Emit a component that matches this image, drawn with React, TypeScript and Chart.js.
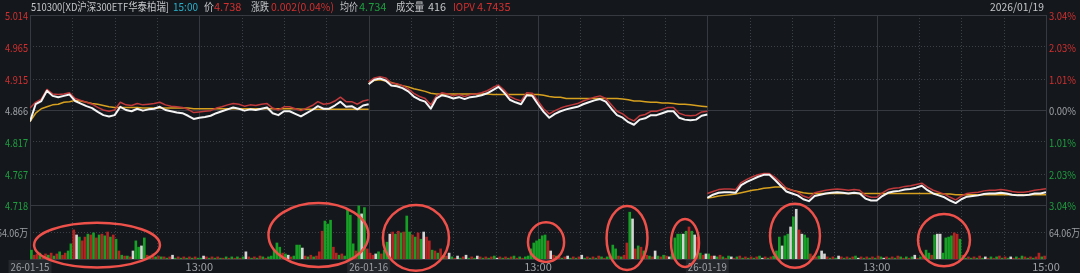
import React, { useEffect, useRef } from "react";
import { Chart, registerables } from "chart.js";

Chart.register(...registerables);

// ---------------- data ----------------
const xTickMinutes = [0, 120, 240, 360, 480, 600, 720];
const xTickLabels = ["26-01-15", "13:00", "26-01-16", "13:00", "26-01-19", "13:00", "15:00"];
const xTickBoxed = [true, false, true, false, true, false, false];
const prevClose = 4.866;
const priceTicks = [5.014, 4.965, 4.915, 4.866, 4.817, 4.767, 4.718];
const pctTickLabels = ["3.04%", "2.03%", "1.01%", "0.00%", "1.01%", "2.03%", "3.04%"];
const volTick = 64.06;
const volTickLabel = "64.06万";
const volPanelMax = 128.12;

const headerTexts = ["510300[XD沪深300ETF华泰柏瑞]", "15:00", "价", "4.738", "涨跌", "0.002(0.04%)", "均价", "4.734", "成交量", "416", "IOPV", "4.7435"];
const headerDate = "2026/01/19";

// price every 4 minutes, 61 samples per day
const d1Price = [4.848,4.875,4.880,4.896,4.888,4.886,4.888,4.890,4.880,4.876,
  4.872,4.869,4.863,4.858,4.856,4.858,4.871,4.866,4.864,4.868,
  4.865,4.867,4.868,4.871,4.866,4.864,4.862,4.861,4.857,4.852,
  4.854,4.855,4.857,4.861,4.864,4.867,4.870,4.868,4.865,4.867,
  4.866,4.868,4.870,4.861,4.858,4.864,4.864,4.860,4.856,4.861,
  4.866,4.872,4.868,4.868,4.873,4.879,4.871,4.872,4.867,4.873,
  4.875];
const d2Price = [4.906,4.913,4.915,4.912,4.904,4.903,4.900,4.895,4.887,4.882,
  4.879,4.868,4.884,4.889,4.887,4.884,4.886,4.883,4.886,4.887,
  4.889,4.892,4.897,4.902,4.893,4.882,4.878,4.875,4.889,4.888,
  4.875,4.863,4.854,4.860,4.864,4.867,4.869,4.871,4.875,4.878,
  4.881,4.883,4.879,4.868,4.858,4.854,4.847,4.843,4.851,4.853,
  4.858,4.858,4.861,4.864,4.864,4.854,4.851,4.850,4.851,4.857,
  4.859];
const d3Price = [4.729,4.734,4.737,4.738,4.738,4.737,4.749,4.754,4.758,4.762,
  4.765,4.765,4.757,4.748,4.739,4.736,4.733,4.727,4.724,4.732,
  4.734,4.736,4.737,4.738,4.737,4.736,4.737,4.736,4.728,4.725,
  4.725,4.732,4.737,4.739,4.740,4.742,4.743,4.745,4.748,4.741,
  4.736,4.733,4.730,4.725,4.721,4.727,4.731,4.732,4.733,4.735,
  4.736,4.736,4.737,4.736,4.734,4.733,4.733,4.734,4.736,4.736,
  4.738];

const d1Iopv = [4.869,4.878,4.883,4.898,4.891,4.890,4.891,4.893,4.884,4.881,
  4.878,4.875,4.870,4.866,4.864,4.866,4.878,4.874,4.873,4.876,
  4.874,4.875,4.876,4.878,4.874,4.872,4.871,4.870,4.867,4.862,
  4.863,4.864,4.865,4.869,4.871,4.874,4.876,4.875,4.872,4.874,
  4.873,4.875,4.876,4.869,4.866,4.871,4.871,4.868,4.865,4.869,
  4.873,4.879,4.875,4.876,4.880,4.886,4.879,4.879,4.875,4.880,
  4.882];
const d2Iopv = [4.910,4.916,4.918,4.916,4.908,4.907,4.904,4.899,4.892,4.887,
  4.884,4.874,4.888,4.893,4.891,4.888,4.890,4.887,4.890,4.891,
  4.893,4.896,4.901,4.905,4.897,4.887,4.883,4.880,4.893,4.892,
  4.880,4.868,4.860,4.865,4.869,4.872,4.874,4.876,4.880,4.883,
  4.886,4.888,4.884,4.874,4.864,4.860,4.853,4.849,4.857,4.859,
  4.864,4.864,4.867,4.870,4.870,4.861,4.858,4.857,4.858,4.863,
  4.864];
const d3Iopv = [4.736,4.739,4.742,4.743,4.743,4.742,4.753,4.758,4.762,4.765,
  4.767,4.767,4.761,4.753,4.744,4.741,4.738,4.732,4.729,4.737,
  4.739,4.741,4.742,4.743,4.742,4.741,4.742,4.741,4.733,4.730,
  4.730,4.737,4.742,4.744,4.745,4.747,4.748,4.750,4.752,4.746,
  4.741,4.738,4.735,4.730,4.726,4.732,4.736,4.737,4.738,4.740,
  4.741,4.741,4.742,4.741,4.739,4.738,4.738,4.739,4.741,4.742,
  4.7435];

const d1Avg = [4.848,4.861,4.868,4.871,4.874,4.875,4.878,4.879,4.881,4.880,
  4.878,4.876,4.875,4.873,4.871,4.870,4.870,4.870,4.870,4.870,
  4.869,4.869,4.869,4.869,4.869,4.869,4.869,4.869,4.869,4.868,
  4.868,4.868,4.868,4.868,4.868,4.868,4.868,4.868,4.868,4.868,
  4.868,4.868,4.868,4.868,4.868,4.868,4.868,4.868,4.867,4.867,
  4.867,4.867,4.867,4.867,4.867,4.867,4.867,4.867,4.867,4.867,
  4.867];
const d2Avg = [4.907,4.912,4.913,4.911,4.909,4.906,4.904,4.902,4.899,4.897,
  4.895,4.892,4.891,4.891,4.891,4.891,4.891,4.891,4.891,4.891,
  4.891,4.891,4.890,4.890,4.890,4.890,4.890,4.890,4.890,4.890,
  4.890,4.889,4.887,4.886,4.886,4.884,4.884,4.884,4.884,4.884,
  4.884,4.884,4.884,4.884,4.884,4.883,4.882,4.880,4.880,4.879,
  4.878,4.878,4.877,4.877,4.876,4.875,4.875,4.874,4.873,4.872,
  4.871];
const d3Avg = [4.729,4.730,4.732,4.733,4.734,4.735,4.737,4.739,4.741,4.742,
  4.744,4.745,4.746,4.746,4.744,4.741,4.739,4.737,4.736,4.736,
  4.736,4.736,4.736,4.736,4.736,4.736,4.736,4.736,4.736,4.736,
  4.736,4.736,4.736,4.736,4.736,4.736,4.736,4.736,4.736,4.736,
  4.736,4.736,4.735,4.735,4.734,4.734,4.734,4.734,4.734,4.734,
  4.734,4.734,4.734,4.734,4.734,4.734,4.734,4.734,4.734,4.734,
  4.734];

// volume (万) every 2 minutes, 120 buckets per day; r = up, g = down, w = flat
const d1Vol = [21,9,12,14,7,12,9,14,7,12,17,9,14,19,
  36,69,57,52,43,
  52,59,57,62,50,57,59,55,64,52,57,47,
  19,9,7,7,5,
  19,43,28,31,50,
  9,7,12,5,7,5,
  5,2,5,9,2,5,2,5,2,5,2,5,2,
  2,7,5,2,5,2,5,2,2,5,2,5,2,5,2,5,
  17,
  5,2,5,2,7,5,2,5,7,
  21,38,28,14,12,
  9,5,7,
  33,33,26,
  7,5,9,5,7,
  17,66,90,83,92,28,
  14,9,12,7,
  118,104,36,19,
  126,107,122,24];
const d1Dir = "grrgrrgrgrgrrg" + "grwgr" + "rgrgrgrgrgrg" + "rgrgr" + "wggwg" + "rgrgrg" +
  "rgrwgrgrgrgrg" + "gwrgrgrgrgrgrgrg" + "w" + "rgrgrgrgg" + "gggrg" + "wrg" + "ggw" +
  "rgrgr" + "rrgggr" + "rgrg" + "gggr" + "gwgr";

const d2Vol = [14,9,12,17,12,
  21,40,59,
  64,59,66,62,64,
  102,
  64,57,52,62,47,64,52,43,
  21,19,14,24,9,7,14,
  5,2,7,2,5,9,2,5,2,7,5,2,5,2,5,7,2,5,2,5,2,5,7,2,5,2,5,7,
  24,38,43,47,55,57,43,19,9,7,
  5,2,5,7,2,5,2,5,9,2,5,2,5,2,7,5,2,5,7,
  33,24,
  7,5,9,
  38,111,95,
  24,31,28,19,9,
  7,5,19,7,5,9,7,5,12,
  50,59,59,59,66,76,66,57,52,14,9,12];
const d2Dir = "rrwgr" + "ggw" + "rgrgr" + "g" + "grgrgwrr" + "grgrgrw" +
  "grwgrwgrgwrgrgrgwrgrgrgrgrgg" + "ggggggrwrg" + "rgrwgrgrwgrgrgrgrgg" + "gg" + "rgr" +
  "rgw" + "rgrgr" + "grwgrgrwg" + "gggwgrgwrgrw";

const d3Vol = [12,7,7,5,9,5,2,7,5,2,5,7,2,5,2,5,2,5,7,2,5,2,5,7,
  19,
  52,31,55,59,76,100,118,69,59,57,50,12,7,
  5,7,
  19,12,
  5,2,5,2,7,5,2,5,2,5,7,2,5,2,5,2,5,2,7,5,2,5,2,5,2,7,5,2,5,2,5,9,2,5,7,
  21,14,9,57,59,59,14,50,52,55,62,59,47,9,
  2,5,2,5,2,7,2,5,2,5,2,5,7,2,5,2,5,2,5,2,7,5,2,5,2,5,14,5,7];
const d3Dir = "grwgrgrgwrgrgrgrgrgwrgrg" + "g" + "gwggwgwrwggrg" + "rg" + "ww" +
  "rgrgwrgrgrgwrgrgrgrgwrgrgrgrgrgwrgr" + "ggrgwwggggrrgr" + "grgrgrgwrgrgrgrgwrgrgrgrgrrgr";

// highlighted regions (annotation ellipses) in data units: minute / 万
const markMinute = [47.5, 204.4, 273.5, 365.7, 423.1, 464.2, 542.1, 647.7];
const markVol = [33, 57, 50, 40, 50, 38, 55, 45];
const markMinuteRadius = [44.6, 35.4, 23.4, 12.8, 14.5, 9.9, 17.7, 18.4];
const markVolRadius = [53, 76, 78, 47, 76, 57, 76, 62];

// ---------------- layout / style ----------------
const W = 1080;
const H = 273;
const PAD = { left: 30, right: 34, top: 15, bottom: 14 };
const PRICE_PANEL_H = 190;
const VOL_PANEL_H = 54;
const MIN_PER_DAY = 240;
const PRICE_STEP = 4;
const VOL_STEP = 2;

const BG = "#14171c";
const GRID = "#363940";
const GRID_DOT = "#3c4047";
const TXT_GRAY = "#9ea1a6";
const TXT_LIGHT = "#c4c6c9";
const RED = "#d2302f";
const GREEN = "#1f9f3f";
const CYAN = "#2aafc8";
const UP = "#b52222";
const DOWN = "#16a025";
const FLAT = "#d4d4d4";
const FONT = "11px 'Noto Sans CJK SC', 'Noto Sans', sans-serif";

const headerX = [31, 173, 204, 214, 251, 271, 340, 359, 396, 428, 453, 477];
const headerMaxW = [138, 25, 10, 30, 18, 63, 18, 31, 28, 18, 22, 35];
const headerColors = [TXT_LIGHT, CYAN, TXT_LIGHT, RED, TXT_LIGHT, RED, TXT_LIGHT, GREEN, TXT_LIGHT, TXT_LIGHT, RED, RED];

const priceMax = priceTicks[0];
const priceMin = priceTicks[priceTicks.length - 1];
const priceAxisMin = priceMax - (priceMax - priceMin) * (PRICE_PANEL_H + VOL_PANEL_H) / PRICE_PANEL_H;
const volAxisMax = volPanelMax * (PRICE_PANEL_H + VOL_PANEL_H) / VOL_PANEL_H;

function toPoints(arr: number[], day: number, step: number, offset: number) {
  return arr.map((v, k) => ({ x: day * MIN_PER_DAY + k * step + offset, y: v }));
}

function lineDs(arr: number[], day: number, color: string, width: number, order: number) {
  return {
    type: "line" as const,
    data: toPoints(arr, day, PRICE_STEP, 0),
    borderColor: color,
    borderWidth: width,
    pointRadius: 0,
    tension: 0,
    fill: false,
    borderJoinStyle: "round" as const,
    xAxisID: "x",
    yAxisID: "yp",
    order,
  };
}

function barDs(vol: number[], dir: string, day: number) {
  return {
    type: "bar" as const,
    data: toPoints(vol, day, VOL_STEP, VOL_STEP / 2),
    backgroundColor: vol.map((_, i) => (dir[i] === "r" ? UP : dir[i] === "g" ? DOWN : FLAT)),
    borderWidth: 0,
    barThickness: 2,
    grouped: false,
    xAxisID: "x",
    yAxisID: "yv",
    order: 10,
  };
}

const overlayPlugin = {
  id: "overlay",
  beforeDraw(chart: any) {
    const ctx = chart.ctx;
    ctx.save();
    ctx.fillStyle = BG;
    ctx.fillRect(0, 0, chart.width, chart.height);
    ctx.restore();
  },
  beforeDatasetsDraw(chart: any) {
    const { ctx, chartArea, scales } = chart;
    const { left, right, top, bottom } = chartArea;
    const xs = scales.x, yp = scales.yp, yv = scales.yv;
    ctx.save();
    ctx.lineWidth = 1;
    const hline = (y: number, dotted: boolean) => {
      const yy = Math.round(y) + 0.5;
      ctx.strokeStyle = dotted ? GRID_DOT : GRID;
      ctx.setLineDash(dotted ? [1, 2] : []);
      ctx.beginPath();
      ctx.moveTo(left, yy);
      ctx.lineTo(right, yy);
      ctx.stroke();
    };
    const vline = (x: number, dotted: boolean) => {
      const xx = Math.round(x) + 0.5;
      ctx.strokeStyle = dotted ? GRID_DOT : GRID;
      ctx.setLineDash(dotted ? [1, 2] : []);
      ctx.beginPath();
      ctx.moveTo(xx, top);
      ctx.lineTo(xx, bottom);
      ctx.stroke();
    };
    priceTicks.forEach((p, i) => {
      const solid = i === 0 || i === priceTicks.length - 1 || p === prevClose;
      hline(yp.getPixelForValue(p), !solid);
    });
    hline(yv.getPixelForValue(volTick), true);
    hline(yv.getPixelForValue(0), false);
    for (let m = 0; m <= 3 * MIN_PER_DAY; m += 30) {
      vline(xs.getPixelForValue(m), m % 120 !== 0);
    }
    ctx.restore();
  },
  afterDatasetsDraw(chart: any) {
    const { ctx, chartArea, scales } = chart;
    const xs = scales.x, yp = scales.yp, yv = scales.yv;
    ctx.save();
    ctx.font = FONT;
    ctx.textBaseline = "middle";

    // header
    ctx.textAlign = "left";
    headerTexts.forEach((t, i) => {
      ctx.fillStyle = headerColors[i];
      ctx.fillText(t, headerX[i], 7, headerMaxW[i]);
    });
    ctx.textAlign = "right";
    ctx.fillStyle = TXT_LIGHT;
    ctx.fillText(headerDate, 1044, 7, 54);

    // price / percent labels
    priceTicks.forEach((p, i) => {
      const y = yp.getPixelForValue(p) + 1;
      const c = p > prevClose ? RED : p < prevClose ? GREEN : TXT_GRAY;
      ctx.fillStyle = c;
      ctx.textAlign = "right";
      ctx.fillText(p.toFixed(3), chartArea.left - 2, y, 23);
      ctx.textAlign = "left";
      ctx.fillText(pctTickLabels[i], chartArea.right + 3, y, 27);
    });
    const vy = yv.getPixelForValue(volTick) + 1;
    ctx.fillStyle = TXT_GRAY;
    ctx.textAlign = "right";
    ctx.fillText(volTickLabel, chartArea.left - 2, vy, 31);
    ctx.textAlign = "left";
    ctx.fillText(volTickLabel, chartArea.right + 3, vy, 31);

    // x labels
    const ly = chartArea.bottom + 7.5;
    xTickMinutes.forEach((m, i) => {
      const x = xs.getPixelForValue(m);
      const label = xTickLabels[i];
      ctx.textAlign = "center";
      if (xTickBoxed[i]) {
        const w = Math.min(ctx.measureText(label).width, 39) + 4;
        ctx.fillStyle = "#24272c";
        ctx.fillRect(x - w / 2, chartArea.bottom + 1, w, 14);
      }
      ctx.fillStyle = TXT_GRAY;
      ctx.fillText(label, x, ly, 39);
    });

    // highlight ellipses
    ctx.strokeStyle = "#ee504a";
    ctx.lineWidth = 2.5;
    markMinute.forEach((m, i) => {
      const cx = xs.getPixelForValue(m);
      const cy = yv.getPixelForValue(markVol[i]);
      const rx = xs.getPixelForValue(m + markMinuteRadius[i]) - cx;
      const ry = cy - yv.getPixelForValue(markVol[i] + markVolRadius[i]);
      ctx.beginPath();
      ctx.ellipse(cx, cy, rx, ry, 0, 0, Math.PI * 2);
      ctx.stroke();
    });
    ctx.restore();
  },
};

export default function App() {
  const ref = useRef<HTMLCanvasElement>(null);
  useEffect(() => {
    document.body.style.margin = "0";
    document.body.style.background = BG;
    const canvas = ref.current;
    if (!canvas) return;
    const prices = [d1Price, d2Price, d3Price];
    const iopvs = [d1Iopv, d2Iopv, d3Iopv];
    const avgs = [d1Avg, d2Avg, d3Avg];
    const vols = [d1Vol, d2Vol, d3Vol];
    const dirs = [d1Dir, d2Dir, d3Dir];
    const datasets: any[] = [];
    for (let d = 0; d < 3; d++) {
      datasets.push(barDs(vols[d], dirs[d], d));
      datasets.push(lineDs(avgs[d], d, "#d7a11f", 1.5, 3));
      datasets.push(lineDs(iopvs[d], d, "#c0393b", 1.5, 2));
      datasets.push(lineDs(prices[d], d, "#f4f4f4", 2, 1));
    }
    const chart = new Chart(canvas, {
      type: "line",
      data: { datasets },
      options: {
        responsive: false,
        devicePixelRatio: 1,
        animation: false,
        events: [],
        layout: { padding: PAD },
        plugins: { legend: { display: false }, tooltip: { enabled: false } },
        scales: {
          x: { type: "linear", min: 0, max: 3 * MIN_PER_DAY, offset: false, display: false },
          yp: { type: "linear", min: priceAxisMin, max: priceMax, display: false },
          yv: { type: "linear", min: 0, max: volAxisMax, display: false },
        },
      },
      plugins: [overlayPlugin],
    } as any);
    return () => chart.destroy();
  }, []);
  return <canvas ref={ref} width={W} height={H} style={{ display: "block", width: W, height: H }} />;
}
